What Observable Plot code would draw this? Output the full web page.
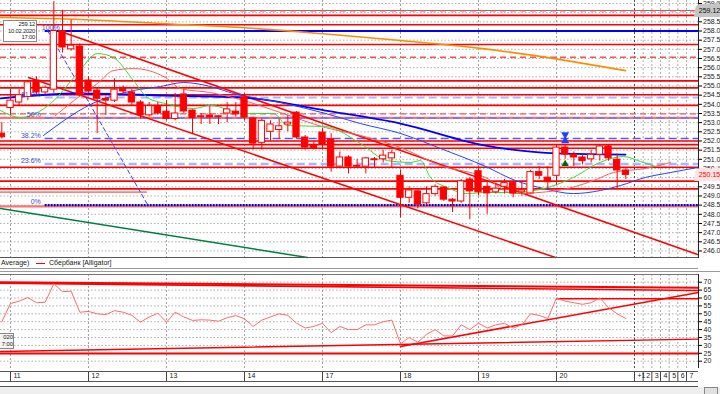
<!DOCTYPE html>
<html>
<head>
<meta charset="utf-8">
<script src="https://cdn.jsdelivr.net/npm/d3@7"></script>
<script src="https://cdn.jsdelivr.net/npm/@observablehq/plot@0.6"></script>
<style>
  html, body { margin: 0; padding: 0; background: #fff; }
  #wrap { position: relative; width: 720px; height: 394px; overflow: hidden; font-family: "Liberation Sans", Arial, sans-serif; }
  #wrap svg { position: absolute; left: 0; }
  .hl { position: absolute; height: 1px; }
  .txt { position: absolute; font-size: 7px; color: #222; white-space: nowrap; }
</style>
</head>
<body>
<div id="wrap"></div>
<script>
// ---------- DATA ----------
const bars = d3.range(-1, 72);
const open  = [252.4,253.8,254.1,254.4,255.3,254.65,254.8,258.0,257.0,257.15,255.3,254.75,254.3,254.2,254.9,254.65,254.1,253.4,253.9,253.6,253.2,254.54,253.66,253.3,253.39,253.3,253.5,253.6,254.38,253.23,251.9,252.5,252.6,252.9,253.55,252.19,251.75,252.46,252.1,250.6,251.1,250.65,250.6,251.0,251.0,251.05,250.1,248.9,249.25,248.6,249.1,249.46,248.8,248.7,249.9,250.35,249.5,249.2,249.5,249.7,249.2,249.14,250.3,250.0,250.1,251.64,251.26,251.1,251.0,251.25,251.7,250.98,250.39];
const high  = [253.0,254.8,254.8,255.3,255.5,255.0,259.6,259.12,258.6,257.3,255.5,254.9,254.4,255.4,255.0,254.8,254.2,254.1,254.1,254.2,254.6,254.8,253.7,253.5,253.9,253.4,254.1,254.1,254.6,253.3,253.2,253.1,253.2,253.4,253.6,252.3,252.0,252.7,252.4,251.4,251.2,251.0,251.1,251.1,251.5,251.5,250.4,249.5,249.4,249.5,249.6,249.5,248.85,249.9,250.0,250.6,249.8,249.7,249.9,249.8,249.7,250.4,250.6,250.6,251.75,251.8,251.4,251.2,251.5,251.8,251.8,251.3,250.5];
const low   = [252.1,253.4,253.9,254.2,254.5,254.5,254.6,256.8,256.9,254.4,254.6,252.4,253.4,254.1,254.5,253.9,253.2,253.3,253.4,253.1,253.1,253.5,252.4,252.9,252.9,252.9,253.0,253.3,253.1,251.5,251.5,252.0,252.1,252.5,252.1,251.5,251.5,251.6,250.3,250.5,250.2,250.5,250.2,250.5,250.8,250.5,247.8,248.6,248.3,248.5,249.0,248.7,248.1,248.6,247.7,249.0,248.0,249.1,249.1,248.9,249.0,249.1,249.9,249.4,249.6,251.0,250.6,250.7,250.8,250.9,250.9,249.4,249.9];
const close = [252.2,254.2,254.5,255.2,254.65,254.9,258.0,257.1,257.2,254.5,254.7,254.3,254.2,254.8,254.7,254.1,253.4,253.9,253.5,253.2,253.5,253.61,253.26,253.35,253.28,253.35,253.72,253.45,253.28,251.86,253.1,252.9,252.8,253.0,252.19,251.64,251.6,251.8,250.6,251.1,250.6,250.6,251.05,250.95,251.2,251.33,248.9,249.3,248.53,249.1,249.5,248.8,248.7,249.8,249.25,249.2,249.14,249.4,249.7,249.14,249.3,250.3,250.1,249.75,251.64,251.26,251.1,250.9,251.25,251.7,251.05,250.39,250.15];
const rsi   = [45,56.5,58,60.3,57,57.3,69,64,64.3,51,51.5,50,49.5,52,51,49,44.7,48,50.4,44.7,51,48,45.8,46.2,46,45.3,47.5,48.9,46.8,42,46,48,50,49,44,41,42,44,38,42,40,40,43,43,45,46,31,35,32,37,40,36,36,43,40,44,41,43,44,41,43,50,49,47,60,58,57,56,57,60,54,50,47];

const priceTicks = d3.range(246, 259.51, 0.5);
const hiddenPriceLabels = [259.0, 250.0];   // covered by the price boxes in the reference
const oscTicks = [20, 25, 30, 35, 40, 45, 50, 55, 60, 65, 70];
const dayBars = [0, 9, 18, 27, 36, 45, 54, 63];
const dayLabels = ["11", "12", "13", "14", "17", "18", "19", "20"];
const futureBars = [72, 73, 74, 75, 76, 77, 78];
const futureLabels = ["+1", "2", "3", "4", "5", "6", "7"];

// support / resistance levels
const redSolid  = [258.85, 258.34, 257.26, 255.28, 254.90, 254.52, 253.94, 252.0, 251.8, 251.6, 250.57, 249.81, 249.39];
const redDashed = [259.1, 256.57, 253.48];
const pinkThick = [253.26, 248.43];
const highMark  = [259.12];
const lastPrice = [250.15];

// Fibonacci retracement
const fibLevels = [258.0, 254.37, 253.25, 252.13, 250.74, 248.5];
const fibLabels = ["100%", "61.8%", "50%", "38.2%", "23.6%", "0%"];
const fibStart = 4;
const fibDiagonal = [[4.27, 258.03], [15.81, 248.53]];

// trend lines (bar, price)
const channelA = [[6.12, 257.92], [79.27, 245.81]];
const channelB = [[2.08, 255.46], [62.88, 245.64]];
const greenTrend = [[-1.15, 248.32], [34.27, 245.64]];

// moving averages (bar, price)
const orangeMA = [[-1.15,258.74],[8.08,258.63],[17.31,258.41],[26.54,258.19],[35.77,257.86],[45,257.48],[54.23,257.05],[63.46,256.44],[70.96,255.84]];
const blueMA = [[-1.15,254.32],[7.73,254.59],[17.88,254.48],[26.88,254.37],[36.35,253.66],[45,252.95],[54.81,251.75],[63.12,251.32],[70.96,251.26]];
// Alligator
const jaw = [[3.81,252.30],[9.23,253.99],[14.19,254.75],[17.31,254.97],[19.96,255.19],[23.08,254.97],[25.73,254.59],[31.15,254.10],[36.35,253.50],[40.38,252.95],[45,252.41],[49.62,251.59],[54.81,250.61],[58.27,249.84],[61.5,249.41],[64.96,249.13],[68.08,249.30],[70.38,249.57],[73.27,250.01],[76.15,250.28],[79.27,250.55]];
const teeth = [[5.19,253.39],[8.08,254.48],[10.04,255.14],[11.88,255.84],[14.19,255.95],[17.88,255.46],[19.62,254.86],[23.08,254.64],[26.88,254.21],[31.15,253.55],[36.35,252.73],[40.38,252.30],[45,251.64],[49.62,250.66],[54.81,250.01],[58.04,249.13],[63.12,249.30],[67.27,249.84],[69.58,250.28],[73.27,250.50],[76.15,250.83]];
const lips = [[-1.15,253.66],[1.15,253.28],[4.62,254.04],[7.73,255.68],[10.04,256.77],[11.88,256.55],[14.19,255.30],[15.81,254.37],[17.88,254.04],[21.12,253.77],[23.08,253.94],[26.88,253.50],[30.35,253.50],[31.96,252.84],[36.35,252.79],[40.38,251.86],[43.5,250.93],[46.15,250.83],[47.31,250.93],[48.46,250.01],[50.42,249.46],[52.73,249.13],[54.81,249.19],[58.04,249.19],[61.96,249.46],[64.96,250.01],[67.73,250.77],[70.73,251.15],[72.69,250.88],[74.42,250.61]];
const fractalUp = [[64, 252.35]];
const fractalDn = [[64, 252.0]];
const signalUp = [[64, 250.75]];

// oscillator trend lines (bar, value)
const oscTop1 = [[-1.15, 70.0], [79.38, 66.5]];
const oscTop2 = [[-1.15, 69.4], [79.38, 64.7]];
const oscMid  = [[63, 59.5], [79.38, 59.5]];
const oscRise = [[45, 29.3], [79.38, 63.5]];
const oscBot1 = [[-1.15, 24.8], [79.38, 24.8]];
const oscBot2 = [[-1.15, 26.1], [79.38, 34.0]];

// ---------- BUILD ----------
const candles = bars.map((b, i) => ({bar: b, o: open[i], h: high[i], l: low[i], c: close[i]}));
const rsiData = bars.map((b, i) => ({bar: b, v: rsi[i]}));
const xDomain = [-10 / (78 / 9), 688 / (78 / 9)];
const xMax = xDomain[1];
const RED = "#ff0000";
const font = "Liberation Sans, Arial, sans-serif";
const P = (arr, opts) => Plot.line(arr, {x: d => d[0], y: d => d[1], ...opts});
const priceFmt = d3.format(".1f");
const fibLabelData = fibLevels.map((v, i) => ({v, t: fibLabels[i], top: i === 0}));

const main = Plot.plot({
  width: 720, height: 258,
  marginTop: 0, marginBottom: 0, marginLeft: 0, marginRight: 22,
  x: {domain: xDomain, axis: null, label: null},
  y: {domain: [245.589, 259.664], axis: null, label: null},
  style: {fontFamily: font, fontSize: "7px", background: "transparent", overflow: "visible"},
  marks: [
    Plot.ruleY(priceTicks, {stroke: "#9a9a9a", strokeDasharray: "1.5,2", strokeWidth: 0.8}),
    Plot.ruleX(dayBars, {stroke: "#8a8a8a", strokeDasharray: "2,2", strokeWidth: 0.8}),
    Plot.ruleX(futureBars, {stroke: d => d === 72 ? "#222" : "#9a9a9a", strokeDasharray: "2,2", strokeWidth: 0.8}),
    // levels
    Plot.ruleY(highMark, {stroke: "#777", strokeWidth: 1}),
    Plot.ruleY(redSolid, {stroke: RED, strokeWidth: 1.6}),
    Plot.ruleY(redDashed, {stroke: "#ff5050", strokeWidth: 1.4, strokeDasharray: "6,4"}),
    Plot.ruleY(pinkThick, {stroke: "#ff7070", strokeWidth: 2.4}),
    Plot.ruleY([249.21], {x1: xDomain[0], x2: 15.8, stroke: "#ff8080", strokeWidth: 1.6}),
    // fib
    Plot.ruleY([fibLevels[0]], {x1: fibStart, x2: xMax, stroke: "#0000ff", strokeWidth: 2}),
    Plot.ruleY([fibLevels[1]], {x1: fibStart, x2: xMax, stroke: "#aab4ff", strokeWidth: 2, strokeDasharray: "8,4"}),
    Plot.ruleY([fibLevels[2]], {x1: fibStart, x2: xMax, stroke: "#6677ff", strokeWidth: 1.5, strokeDasharray: "8,4"}),
    Plot.ruleY([fibLevels[3]], {x1: fibStart, x2: xMax, stroke: "#4a5cff", strokeWidth: 1.5, strokeDasharray: "8,4"}),
    Plot.ruleY([fibLevels[4]], {x1: fibStart, x2: xMax, stroke: "#aab4ff", strokeWidth: 2.5, strokeDasharray: "8,4"}),
    Plot.ruleY([fibLevels[5]], {x1: fibStart, x2: xMax, stroke: "#0000cc", strokeWidth: 2.2, strokeDasharray: "2,1"}),
    P(fibDiagonal, {stroke: "#3344ff", strokeWidth: 1, strokeDasharray: "4,3"}),
    // trend lines
    P(channelA, {stroke: RED, strokeWidth: 1.5}),
    P(channelB, {stroke: RED, strokeWidth: 1.5}),
    P(greenTrend, {stroke: "#008040", strokeWidth: 1.5}),
    // moving averages
    P(orangeMA, {stroke: "#ff8c00", strokeWidth: 1.6, curve: "monotone-x"}),
    P(blueMA, {stroke: "#0000ff", strokeWidth: 1.8, curve: "monotone-x"}),
    P(jaw, {stroke: "#2244ff", strokeWidth: 1, curve: "monotone-x"}),
    P(teeth, {stroke: "#ff5a5a", strokeWidth: 1, curve: "monotone-x"}),
    P(lips, {stroke: "#33dd33", strokeWidth: 1, curve: "monotone-x"}),
    // candles
    Plot.ruleX(candles, {x: "bar", y1: "l", y2: "h", stroke: RED, strokeWidth: 1}),
    Plot.rect(candles, {x1: d => d.bar - 0.36, x2: d => d.bar + 0.36, y1: "o", y2: "c",
      fill: d => d.c >= d.o ? "#ffffff" : RED, stroke: RED, strokeWidth: 1}),
    // fib labels on top (the 100% one sits just right of the data-window box)
    Plot.text(fibLabelData.filter(d => !d.top), {x: fibStart - 0.5, y: "v", text: "t", textAnchor: "end", lineAnchor: "bottom", dy: -1, fill: "#3a4ad8", fontSize: 7}),
    Plot.text(fibLabelData.filter(d => d.top), {x: fibStart - 0.5, y: "v", text: "t", textAnchor: "start", lineAnchor: "bottom", dy: -1, dx: 1, fill: "#3a4ad8", fontSize: 7}),
    // markers
    Plot.dot(fractalUp, {x: d => d[0], y: d => d[1], symbol: "triangle", rotate: 180, r: 3, fill: "#2040ff"}),
    Plot.dot(fractalDn, {x: d => d[0], y: d => d[1], symbol: "triangle", r: 3, fill: "#2040ff"}),
    Plot.dot(signalUp, {x: d => d[0], y: d => d[1], symbol: "triangle", r: 2.6, fill: "#006400"}),
    // frame edge
    Plot.ruleX([xMax], {stroke: "#222", strokeWidth: 1}),
    // right axis
    Plot.axisY(priceTicks, {anchor: "right", label: null, tickSize: 3, tickPadding: 1.5, fontSize: 7, fill: "#222",
      tickFormat: d => hiddenPriceLabels.includes(d) ? "" : priceFmt(d)}),
    Plot.text(highMark, {x: xMax, y: d => d, dx: 11, text: d => d.toFixed(2), fill: "#111", stroke: "#c4c4c4", strokeWidth: 8, strokeLinejoin: "miter", paintOrder: "stroke", fontSize: 7}),
    Plot.text(lastPrice, {x: xMax, y: d => d, dx: 11, text: d => d.toFixed(2), fill: RED, stroke: "#ffe4e4", strokeWidth: 8, strokeLinejoin: "miter", paintOrder: "stroke", fontSize: 7})
  ]
});

const osc = Plot.plot({
  width: 720, height: 122,
  marginTop: 2, marginBottom: 26, marginLeft: 0, marginRight: 22,
  x: {domain: xDomain, axis: null, label: null},
  y: {domain: [15.38, 74.87], axis: null, label: null},
  style: {fontFamily: font, fontSize: "7px", background: "transparent", overflow: "visible"},
  marks: [
    Plot.ruleY(oscTicks, {stroke: "#9a9a9a", strokeDasharray: "1.5,2", strokeWidth: 0.8}),
    Plot.ruleX(dayBars, {stroke: "#8a8a8a", strokeDasharray: "2,2", strokeWidth: 0.8}),
    Plot.ruleX(futureBars, {stroke: d => d === 72 ? "#222" : "#9a9a9a", strokeDasharray: "2,2", strokeWidth: 0.8}),
    P(oscTop1, {stroke: RED, strokeWidth: 2}),
    P(oscTop2, {stroke: RED, strokeWidth: 1.6}),
    P(oscMid, {stroke: RED, strokeWidth: 1.6}),
    P(oscRise, {stroke: RED, strokeWidth: 1.6}),
    P(oscBot1, {stroke: RED, strokeWidth: 2}),
    P(oscBot2, {stroke: RED, strokeWidth: 1.4}),
    Plot.line(rsiData, {x: "bar", y: "v", stroke: "#ff6a6a", strokeWidth: 1}),
    Plot.ruleX([xMax], {stroke: "#222", strokeWidth: 1}),
    Plot.axisY(oscTicks, {anchor: "right", label: null, tickSize: 3, tickPadding: 2, fontSize: 7, fill: "#222"}),
    Plot.axisX(dayBars.concat(futureBars), {anchor: "bottom", label: null, tickSize: 10, tickPadding: 0, dy: 3.7, tickFormat: () => "", stroke: "#444"}),
    Plot.axisX(dayBars.concat(futureBars), {anchor: "bottom", label: null, tickSize: 0, tickPadding: 4, dy: 1, dx: 3, textAnchor: "start", fontSize: 7, fill: "#222",
      tickFormat: d => d >= 72 ? futureLabels[d - 72] : dayLabels[dayBars.indexOf(d)]})
  ]
});

// ---------- LAYOUT ----------
const wrap = document.getElementById("wrap");
main.style.top = "0px";
osc.style.top = "272px";
wrap.appendChild(main);
wrap.appendChild(osc);

function line(top, left, width, color) {
  const d = document.createElement("div");
  d.className = "hl";
  Object.assign(d.style, {top: top + "px", left: left + "px", width: width + "px", background: color});
  wrap.appendChild(d);
}
function txt(html, style) {
  const d = document.createElement("div");
  d.className = "txt";
  d.innerHTML = html;
  Object.assign(d.style, style);
  wrap.appendChild(d);
  return d;
}
line(257, 0, 698, "#555");
line(268, 0, 698, "#999");
line(271, 0, 720, "#999");
line(274, 0, 698, "#777");
line(371, 0, 698, "#555");
line(381, 0, 698, "#555");
line(386, 0, 698, "#555");
const sb = document.createElement("div");
Object.assign(sb.style, {position: "absolute", left: "0px", top: "387px", width: "720px", height: "7px", background: "#eeeeee"});
wrap.appendChild(sb);
const sbBox = document.createElement("div");
Object.assign(sbBox.style, {position: "absolute", left: "704px", top: "387px", width: "12px", height: "6px", border: "1px solid #888", background: "#e0e0e0"});
wrap.appendChild(sbBox);

// legend row
txt("Average)", {left: "1px", top: "259px"});
const lg = document.createElement("div");
Object.assign(lg.style, {position: "absolute", left: "36px", top: "263px", width: "9px", height: "1px", background: RED});
wrap.appendChild(lg);
txt("Сбербанк [Alligator]", {left: "49px", top: "259px"});

// data window box (top-left)
txt("259.12<br>10.02.2020<br>17:00", {left: "3px", top: "20px", width: "30px", textAlign: "right", fontSize: "5.8px", lineHeight: "6.6px",
  border: "1px solid #888", background: "#fff", padding: "0 1px", letterSpacing: "-0.2px"});
// crosshair date stub (bottom-left)
txt("020<br>7:00", {left: "0px", top: "333px", width: "13px", textAlign: "right", fontSize: "5.8px", lineHeight: "7px",
  border: "1px solid #888", borderLeft: "none", background: "#f4f4f4", overflow: "hidden"});
</script>
</body>
</html>
